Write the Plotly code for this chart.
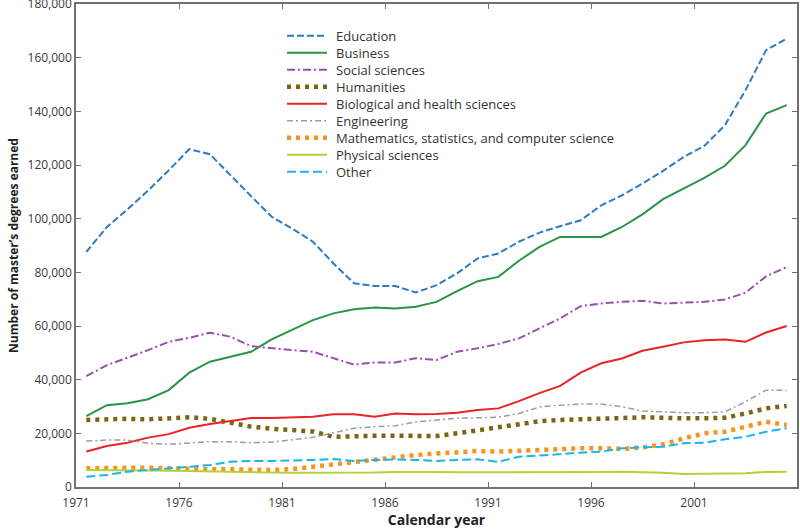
import plotly.graph_objects as go

# Master's degrees earned by field, 1971-2005 (points plotted mid-year)
years = list(range(1971, 2006))

education = [87.6, 96.9, 103.5, 110.5, 118.0, 125.9, 124.0, 116.0, 108.4, 100.7,
             96.3, 91.4, 83.3, 75.9, 74.9, 74.9, 72.5, 75.2, 79.6, 85.2,
             87.0, 91.4, 94.8, 97.2, 99.4, 105.0, 108.7, 113.1, 117.8, 123.0,
             127.1, 134.8, 147.9, 162.8, 167.1]
business = [26.4, 30.5, 31.2, 32.7, 36.1, 42.6, 46.7, 48.5, 50.4, 55.0,
            58.5, 62.2, 64.7, 66.2, 66.9, 66.5, 67.2, 69.0, 73.0, 76.7,
            78.3, 84.3, 89.5, 93.2, 93.2, 93.2, 96.9, 101.6, 107.3, 111.2,
            115.2, 119.7, 127.4, 139.2, 142.3]
social = [41.3, 45.4, 48.2, 51.0, 54.1, 55.6, 57.5, 56.0, 52.5, 51.7,
          51.0, 50.4, 47.9, 45.6, 46.4, 46.4, 48.0, 47.3, 50.4, 51.7,
          53.3, 55.4, 59.1, 62.8, 67.4, 68.4, 69.0, 69.4, 68.4, 68.8,
          69.0, 69.9, 72.4, 78.5, 82.0]
humanities = [25.0, 25.4, 25.4, 25.2, 25.8, 26.0, 25.4, 23.9, 22.5, 21.7,
              21.2, 20.7, 18.7, 19.0, 19.1, 19.1, 19.0, 19.0, 20.0, 21.2,
              22.5, 23.7, 24.5, 25.0, 25.1, 25.2, 25.7, 26.0, 25.7, 25.6,
              25.6, 25.8, 27.4, 29.3, 30.2]
biology = [13.2, 15.3, 16.5, 18.4, 19.7, 22.1, 23.5, 24.6, 25.7, 25.7,
           26.0, 26.2, 27.1, 27.1, 26.2, 27.4, 27.1, 27.2, 27.7, 28.7,
           29.3, 32.0, 35.0, 37.7, 42.6, 46.1, 47.9, 50.8, 52.3, 53.9,
           54.7, 55.0, 54.1, 57.6, 60.0]
engineering = [17.1, 17.5, 17.5, 16.3, 15.9, 16.3, 16.9, 16.9, 16.5, 16.7,
               17.5, 18.5, 20.2, 21.9, 22.5, 22.8, 24.3, 25.0, 25.6, 25.8,
               26.0, 27.4, 29.8, 30.5, 30.9, 30.9, 29.9, 28.3, 28.0, 27.7,
               27.7, 28.0, 31.8, 36.1, 36.0]
math_cs = [7.0, 7.2, 7.2, 7.2, 7.0, 6.7, 6.6, 6.6, 6.3, 6.3,
           6.7, 7.6, 8.2, 9.4, 10.4, 11.3, 11.9, 12.5, 12.9, 13.4,
           13.2, 13.5, 14.0, 14.4, 14.4, 14.4, 14.2, 14.7, 15.9, 18.1,
           20.0, 20.6, 22.5, 24.3, 23.1]
physical = [6.3, 6.3, 6.2, 6.1, 6.1, 6.0, 5.8, 5.6, 5.5, 5.4,
            5.3, 5.3, 5.3, 5.3, 5.4, 5.6, 5.7, 5.6, 5.5, 5.5,
            5.6, 5.4, 5.4, 5.5, 5.6, 5.6, 5.7, 5.5, 5.3, 4.8,
            5.0, 5.0, 5.1, 5.6, 5.7]
other = [3.8, 4.5, 5.7, 6.3, 7.0, 7.6, 8.2, 9.4, 9.7, 9.7,
         9.8, 10.1, 10.4, 9.7, 10.1, 10.3, 10.1, 9.7, 10.1, 10.3,
         9.4, 11.3, 11.7, 12.3, 12.8, 13.2, 14.4, 14.8, 15.0, 16.3,
         16.5, 17.8, 18.7, 20.6, 21.9]

tick_years = [1971, 1976, 1981, 1986, 1991, 1996, 2001]

series = [
    ('Education', education, '#2b7bc4', '7px,3px', 2),
    ('Business', business, '#2a9447', 'solid', 2),
    ('Social sciences', social, '#9a4fae', '8px,3px,2px,3px', 2),
    ('Humanities', humanities, '#7a6512', '4px,5px', 4.5),
    ('Biological and health sciences', biology, '#ec2227', 'solid', 2),
    ('Engineering', engineering, '#9d9d9d', '6px,3px,2px,3px', 1.5),
    ('Mathematics, statistics, and computer science', math_cs, '#f7931e', '4px,5px', 4.5),
    ('Physical sciences', physical, '#b3d23a', 'solid', 2),
    ('Other', other, '#1ab6ea', '9px,4px', 2),
]

fig = go.Figure()
for name, vals, color, dash, width in series:
    fig.add_trace(go.Scatter(
        x=[y + 0.5 for y in years],
        y=[v * 1000 for v in vals],
        mode='lines',
        name=name,
        line=dict(color=color, dash=dash, width=width),
        showlegend=False,
    ))

# Hand-built legend (plotly's legend rows can't be packed this tightly)
plot_w, plot_h = 721, 483
for k, (name, vals, color, dash, width) in enumerate(series):
    py = 31.7 + 17 * k  # row centre, pixels from the top of the plot area
    yp = 1 - py / plot_h
    fig.add_shape(
        type='line', xref='paper', yref='paper',
        x0=211 / plot_w, x1=251 / plot_w, y0=yp, y1=yp,
        line=dict(color=color, dash=dash, width=width),
    )
    fig.add_annotation(
        text=name, xref='paper', yref='paper',
        x=258 / plot_w, y=yp, xanchor='left', yanchor='middle',
        showarrow=False, font=dict(family='Open Sans', size=13, color='#333333'),
    )

axis_common = dict(
    showline=True, linecolor='#707070', linewidth=1.5, mirror='ticks',
    ticks='inside', ticklen=5, tickcolor='#707070', tickwidth=1.2,
    showgrid=False, zeroline=False, automargin=False,
    ticklabeloverflow='allow',
    tickfont=dict(family='Open Sans', size=12, color='#3a3a3a'),
)

fig.update_xaxes(
    range=[1971, 2006], tickvals=tick_years, ticklabelstandoff=4,
    title=dict(text='<b>Calendar year</b>', font=dict(family='Open Sans', size=14, color='#222222'), standoff=4),
    **axis_common,
)
fig.update_yaxes(
    range=[0, 180000], dtick=20000, tickformat=',d',
    title=dict(text='<b>Number of master’s degrees earned</b>', font=dict(family='Open Sans', size=12, color='#222222'), standoff=6),
    **axis_common,
)

fig.update_layout(
    width=800, height=529,
    margin=dict(l=76, r=3, t=4, b=42),
    plot_bgcolor='white', paper_bgcolor='white',
    font=dict(family='Open Sans', size=12, color='#333333'),
    showlegend=False,
)

# drop the browser's default page margin so the figure sits at (0, 0)
fig.write_html("out.html", config={'displayModeBar': False},
               post_script="document.body.style.margin='0';")
